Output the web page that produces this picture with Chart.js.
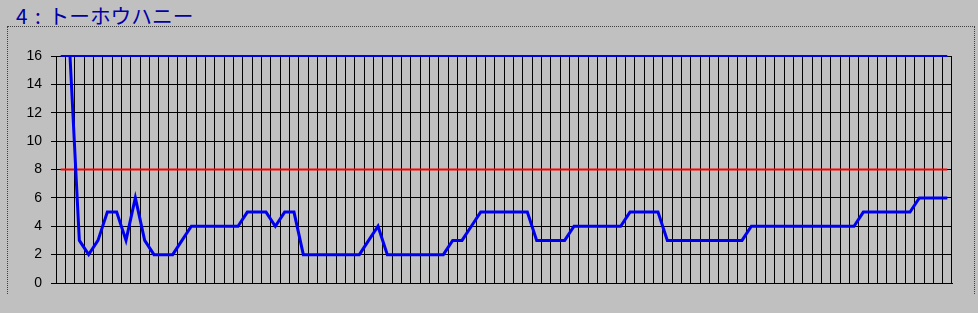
<!DOCTYPE html>
<html lang="ja">
<head>
    <meta charset="UTF-8">
    <title>4 : トーホウハニー</title>
    <script src="https://cdn.jsdelivr.net/npm/chart.js"></script>
    <style>
        body {
            margin: 0;
            background-color: #c0c0c0;
        }
        .wrap {
            position: relative;
            width: 978px;
            height: 313px;
            background-color: #c0c0c0;
            overflow: hidden;
        }
        .chart-title {
            position: absolute;
            left: 16px;
            top: 5px;
            font-family: "Noto Sans CJK JP", sans-serif;
            font-size: 20.7px;
            line-height: 20px;
            word-spacing: 3px;
            color: #0000a8;
            white-space: pre;
        }
        /* dotted frame around the plot, open at the bottom */
        .frame {
            position: absolute;
            left: 7px;
            top: 26px;
            width: 968px;
            height: 268px;
            box-sizing: border-box;
            border: 1px dotted #404040;
            border-bottom: none;
        }
        #chart {
            position: absolute;
            left: 0;
            top: 0;
        }
    </style>
</head>
<body>
    <div class="wrap">
        <div class="chart-title">4 : トーホウハニー</div>
        <div class="frame"></div>
        <canvas id="chart" width="978" height="313"></canvas>
    </div>

    <script>
        // race numbers (no labels are shown on the x axis)
        const races = [
            '1', '2', '3', '4', '5', '6', '7', '8', '9', '10', '11', '12',
            '13', '14', '15', '16', '17', '18', '19', '20', '21', '22', '23', '24',
            '25', '26', '27', '28', '29', '30', '31', '32', '33', '34', '35', '36',
            '37', '38', '39', '40', '41', '42', '43', '44', '45', '46', '47', '48',
            '49', '50', '51', '52', '53', '54', '55', '56', '57', '58', '59', '60',
            '61', '62', '63', '64', '65', '66', '67', '68', '69', '70', '71', '72',
            '73', '74', '75', '76', '77', '78', '79', '80', '81', '82', '83', '84',
            '85', '86', '87', '88', '89', '90', '91', '92', '93', '94', '95', '96'
        ];

        // first race has no value, the line starts at race 2
        const values = [
            null, 16, 3, 2, 3, 5, 5, 3, 6, 3, 2, 2,
            2, 3, 4, 4, 4, 4, 4, 4, 5, 5, 5, 4,
            5, 5, 2, 2, 2, 2, 2, 2, 2, 3, 4, 2,
            2, 2, 2, 2, 2, 2, 3, 3, 4, 5, 5, 5,
            5, 5, 5, 3, 3, 3, 3, 4, 4, 4, 4, 4,
            4, 5, 5, 5, 5, 3, 3, 3, 3, 3, 3, 3,
            3, 3, 4, 4, 4, 4, 4, 4, 4, 4, 4, 4,
            4, 4, 5, 5, 5, 5, 5, 5, 6, 6, 6, 6
        ];

        const upperLine = 16;
        const middleLine = 8;
        const yTicks = [0, 2, 4, 6, 8, 10, 12, 14, 16];

        const firstRace = races[0];
        const lastRace = races[races.length - 1];

        const ctx = document.getElementById('chart').getContext('2d');
        const chart = new Chart(ctx, {
            type: 'line',
            data: {
                labels: races,
                datasets: [
                    {
                        label: 'value',
                        data: values,
                        borderColor: '#0000f0',
                        borderWidth: 3,
                        pointRadius: 0,
                        tension: 0,
                        clip: 4,
                        order: 0
                    },
                    {
                        label: 'upper',
                        data: [{ x: firstRace, y: upperLine }, { x: lastRace, y: upperLine }],
                        borderColor: '#0000e0',
                        borderWidth: 2,
                        pointRadius: 0,
                        clip: 4,
                        order: 1
                    },
                    {
                        label: 'middle',
                        data: [{ x: firstRace, y: middleLine }, { x: lastRace, y: middleLine }],
                        borderColor: '#ff0000',
                        borderWidth: 2,
                        pointRadius: 0,
                        clip: 4,
                        order: 2
                    }
                ]
            },
            options: {
                responsive: false,
                animation: false,
                devicePixelRatio: 1,
                layout: {
                    padding: { left: 0, right: 26, top: 56, bottom: 30 }
                },
                plugins: {
                    legend: { display: false },
                    title: { display: false },
                    tooltip: { enabled: false }
                },
                scales: {
                    x: {
                        type: 'category',
                        offset: true,
                        grid: {
                            offset: true,
                            color: '#000000',
                            lineWidth: 1,
                            drawTicks: false,
                            tickLength: 0
                        },
                        border: { color: '#000000', width: 1 },
                        ticks: { display: false },
                        afterFit: function(scale) {
                            scale.height = 0;
                        }
                    },
                    y: {
                        min: 0,
                        max: 16,
                        afterBuildTicks: function(scale) {
                            scale.ticks = yTicks.map(v => ({ value: v }));
                        },
                        grid: {
                            color: '#000000',
                            lineWidth: 1,
                            drawTicks: true,
                            tickLength: 5
                        },
                        border: { color: '#000000', width: 1 },
                        ticks: {
                            color: '#000000',
                            padding: 9,
                            font: { family: 'Liberation Sans', size: 14 }
                        },
                        afterFit: function(scale) {
                            scale.width = 56;
                        }
                    }
                }
            }
        });
    </script>
</body>
</html>
